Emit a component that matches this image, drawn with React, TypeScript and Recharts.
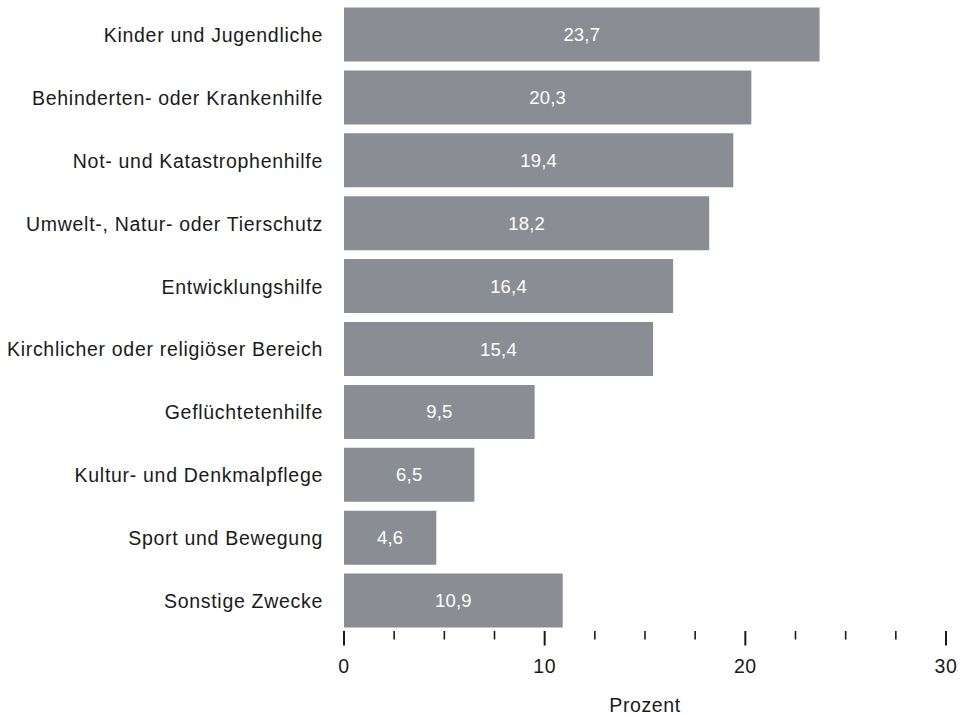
import { BarChart, Bar, XAxis, YAxis, LabelList } from 'recharts';

const categories = [
  'Kinder und Jugendliche',
  'Behinderten- oder Krankenhilfe',
  'Not- und Katastrophenhilfe',
  'Umwelt-, Natur- oder Tierschutz',
  'Entwicklungshilfe',
  'Kirchlicher oder religiöser Bereich',
  'Geflüchtetenhilfe',
  'Kultur- und Denkmalpflege',
  'Sport und Bewegung',
  'Sonstige Zwecke',
];
const values = [23.7, 20.3, 19.4, 18.2, 16.4, 15.4, 9.5, 6.5, 4.6, 10.9];
const xTicks = [0, 2.5, 5, 7.5, 10, 12.5, 15, 17.5, 20, 22.5, 25, 27.5, 30];
const majorTicks = [0, 10, 20, 30];

const FONT = '"Liberation Sans", Arial, sans-serif';
const INK = '#1a1a1a';

const fmt = (v: number) => v.toFixed(1).replace('.', ',');

// ticks every 2.5, long ones with a label at every 10
const XTick = ({ x, y, payload }: any) => {
  const major = majorTicks.includes(payload.value);
  return (
    <g>
      <line x1={x} x2={x} y1={y - 1.5} y2={y + (major ? 13 : 7)} stroke={INK} strokeWidth={major ? 2 : 1.6} />
      {major && (
        <text x={x} y={y + 40.5} textAnchor="middle" fontSize={19.5} letterSpacing={0.6} fill={INK} fontFamily={FONT}>
          {payload.value}
        </text>
      )}
    </g>
  );
};

const YTick = ({ x, y, payload }: any) => (
  <text x={x} y={y} dy={7} textAnchor="end" fontSize={19.5} letterSpacing={0.7} fill={INK} fontFamily={FONT}>
    {payload.value}
  </text>
);

export default function App() {
  const data = categories.map((name, i) => ({ name, value: values[i] }));
  return (
    <div style={{ position: 'absolute', left: 0, top: 0, width: 964, height: 715, background: '#fff' }}>
      <BarChart
        width={964}
        height={715}
        data={data}
        layout="vertical"
        margin={{ top: 3.5, right: 18, bottom: 0, left: 0 }}
      >
        <XAxis
          type="number"
          domain={[0, 30]}
          ticks={xTicks}
          axisLine={false}
          tickLine={false}
          tickSize={0}
          tickMargin={0}
          tick={<XTick />}
          height={82.5}
          interval={0}
          label={{ value: 'Prozent', position: 'insideBottom', offset: 3, fill: INK, fontSize: 19.5, letterSpacing: 0.6, fontFamily: FONT }}
        />
        <YAxis
          type="category"
          dataKey="name"
          width={344}
          axisLine={false}
          tickLine={false}
          tickMargin={15}
          tick={<YTick />}
          interval={0}
        />
        <Bar dataKey="value" fill="#8b8d94" barSize={54} isAnimationActive={false}>
          <LabelList dataKey="value" position="center" fill="#fff" fontSize={18.5} letterSpacing={0.2} fontFamily={FONT} formatter={(v: any) => fmt(v)} />
        </Bar>
      </BarChart>
    </div>
  );
}
